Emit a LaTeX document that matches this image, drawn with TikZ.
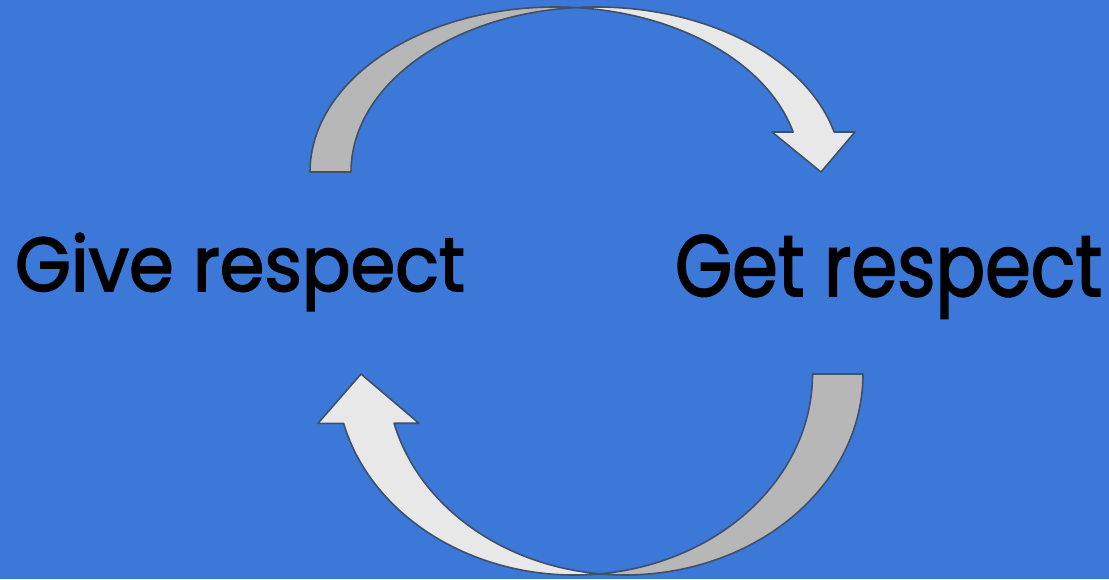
\documentclass[tikz,border=0pt]{standalone}
\usepackage{fontspec}
\setmainfont{Poppins}[FakeBold=2.2]
\usepackage{graphicx}
\definecolor{bgblue}{HTML}{3B78D8}
\definecolor{lightfill}{HTML}{E8E8E8}
\definecolor{darkfill}{HTML}{B7B7B7}
\definecolor{edge}{HTML}{3F5068}
\begin{document}
\begin{tikzpicture}[x=1pt,y=1pt,
  arrowpart/.style={draw=edge,line width=1.6pt,line join=round},
  lbl/.style={inner sep=0pt,outer sep=0pt,anchor=base west,text=black}]
\fill[bgblue] (0,0) rectangle (1109,579);
\useasboundingbox (0,0) rectangle (1109,579);
% top arrow: ellipse A center (555.2,407), B center (596.2,407), rx=245.2, ry=165
\path[arrowpart,fill=darkfill] (310,407)
  arc[start angle=180,end angle=85.2,x radius=245.2,y radius=165]
  arc[start angle=94.8,end angle=180,x radius=245.2,y radius=165] -- cycle;
\path[arrowpart,fill=lightfill] (575.7,571.4)
  arc[start angle=94.8,end angle=14.03,x radius=245.2,y radius=165]
  -- (855,447) -- (821,407) -- (772,447) -- (793.1,447)
  arc[start angle=14.03,end angle=85.2,x radius=245.2,y radius=165] -- cycle;
% bottom arrow: ellipse A' center (624.9,205), B' center (574.4,205), rx=238.1, ry=201
\path[arrowpart,fill=darkfill] (863,205)
  arc[start angle=360,end angle=263.91,x radius=238.1,y radius=201]
  arc[start angle=276.09,end angle=360,x radius=238.1,y radius=201] -- cycle;
\path[arrowpart,fill=lightfill] (599.65,5.13)
  arc[start angle=276.09,end angle=194.2,x radius=238.1,y radius=201]
  -- (318,155.7) -- (361,205) -- (419,155.7) -- (394.1,155.7)
  arc[start angle=194.2,end angle=263.91,x radius=238.1,y radius=201] -- cycle;
\node[lbl] (give) at (15,288) {\resizebox{450pt}{58pt}{Give respect}};
\node[lbl] (get) at (675,283) {\resizebox{427pt}{61pt}{Get respect}};
\end{tikzpicture}
\end{document}
